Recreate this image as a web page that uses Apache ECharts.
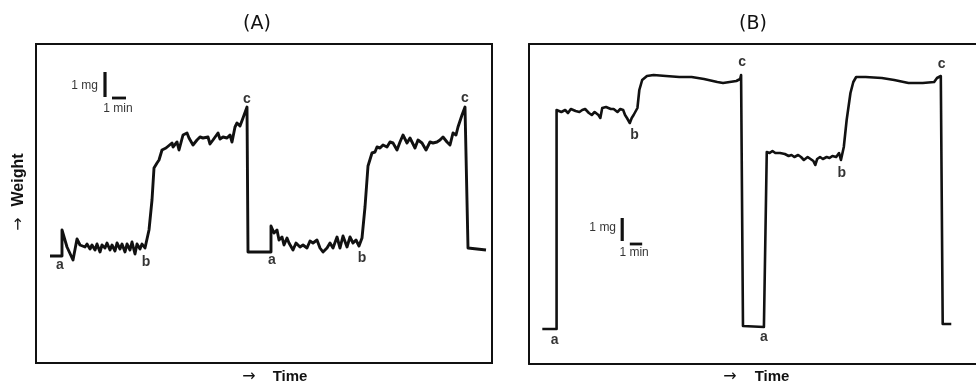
<!DOCTYPE html>
<html><head><meta charset="utf-8">
<script src="https://cdn.jsdelivr.net/npm/echarts@6/dist/echarts.min.js"></script>
<style>html,body{margin:0;padding:0;background:#fff}#c{width:976px;height:383px}</style>
</head><body><div id="c"></div>
<script>
// Panel (A): [time (arb.), weight (arb.)]
const traceA = [
[14,107],[26,107],[26,133],[31,116],[37,103],[41,124],
[44,118],[46,120],[49,116],[51,119],[54,114],[56,118],[59,113],[61,119],[64,111],[66,118],[69,115],[71,120],[74,113],[76,118],[79,112],[81,120],[84,114],[86,119],[89,111],[91,119],[94,113],[96,121],[99,109],[101,119],[104,114],[106,119],[109,115],
[110,116],[113,133],[116,163],[118,195],[121,200],[123,203],[126,213],[130,215],[132,216],[136,220],[137,216],[141,221],[143,213],[147,228],[151,230],[153,225],[157,218],[161,223],[164,226],[167,225],[172,226],[174,219],[177,223],[182,230],[184,224],[187,226],[191,225],[194,228],[196,221],[199,236],[201,240],[204,237],[207,245],[211,256],
[212,111],[235,111],[235,137],
[238,130],[241,133],[243,123],[246,126],[248,118],[251,125],[253,120],[257,113],[260,120],[264,116],[267,118],[271,115],[274,122],[277,120],[281,123],[284,115],[287,111],[291,115],[294,120],[297,115],[301,126],[304,115],[307,127],[311,116],[314,126],[317,120],[320,123],[323,117],
[326,125],[329,156],[332,197],[336,210],[339,211],[341,216],[344,215],[347,218],[351,216],[354,221],[357,220],[361,213],[364,221],[367,228],[371,220],[374,225],[379,215],[382,223],[386,220],[390,213],[394,221],[397,220],[401,221],[404,223],[407,226],[411,221],[414,218],[417,230],[420,228],[422,236],[426,248],[429,256],
[432,115],[450,113]
];
// Panel (B)
const traceB = [
[14,35],[29,35],[29,254],[31,254],[34,252],[38,254],[41,251],[44,255],[49,253],[53,252],[56,254],[59,255],[63,251],[66,249],[69,252],[73,249],[75,246],[77,256],[81,257],[86,255],[89,255],[93,252],[96,255],[99,254],[101,249],[103,246],[106,241],[108,246],[110,249],[114,256],[116,274],[119,284],[124,288],[131,289],[144,288],[158,287],[171,287],[184,285],[198,282],[204,281],[211,282],[218,283],[222,285],[223,289],[225,288],
[225,38],[247,37],[250,212],[253,211],[256,213],[259,211],[264,211],[269,210],[273,208],[276,209],[279,207],[283,209],[286,207],[289,204],[293,207],[296,205],[299,203],[301,199],[303,205],[306,207],[309,205],[313,207],[316,206],[319,208],[323,207],[326,211],[328,204],[331,217],[334,244],[338,271],[341,282],[344,287],[354,287],[371,286],[384,284],[399,281],[414,281],[426,282],[429,286],[433,288],[434,286],
[435,40],[444,40]
];
// point labels [time, weight, text]
const labelsA = [[24,98,'a'],[110,101,'b'],[211,264,'c'],[236,103,'a'],[326,105,'b'],[429,265,'c']];
const labelsB = [[27,24,'a'],[111,229,'b'],[224,302,'c'],[247,27,'a'],[329,191,'b'],[434,300,'c']];
// scale bars: 1 mg (vertical) and 1 min (horizontal)
const mgBarA = [[69,266],[69,291]];
const minBarA = [[76,265],[90,265]];
const mgBarB = [[98,123],[98,146]];
const minBarB = [[106,120],[119,120]];
const scaleTextA = [[48.5,277,'1 mg'],[82,254,'1 min']];
const scaleTextB = [[77.5,136,'1 mg'],[110.5,111,'1 min']];

const ink = '#111';
const chart = echarts.init(document.getElementById('c'));
function lineS(data, idx, w) {
  return {type:'line', data, xAxisIndex:idx, yAxisIndex:idx, symbol:'none', silent:true,
    lineStyle:{color:ink, width:w, join:'round', cap:'butt'}, animation:false, clip:false};
}
function textS(data, idx, font) {
  return {type:'scatter', data, xAxisIndex:idx, yAxisIndex:idx, symbolSize:0, silent:true, animation:false,
    label:{show:true, position:'inside', formatter:p=>p.value[2], color:'#000', fontFamily:'Liberation Sans', fontSize:font.size, fontWeight:font.weight}};
}
const frameLine = {show:true, onZero:false, lineStyle:{color:ink, width:2}};
const hidden = {axisTick:{show:false}, axisLabel:{show:false}, splitLine:{show:false}};
chart.setOption({
  animation:false,
  backgroundColor:'#fff',
  grid:[
    {left:36, top:44, width:456, height:319, show:true, borderColor:ink, borderWidth:2, backgroundColor:'transparent'},
    {left:529, top:44, width:470, height:320, show:false}
  ],
  xAxis:[
    {type:'value', gridIndex:0, min:0, max:456, show:false},
    Object.assign({type:'value', gridIndex:1, min:0, max:470, position:'bottom', axisLine:frameLine}, hidden),
    Object.assign({type:'value', gridIndex:1, min:0, max:470, position:'top', axisLine:frameLine}, hidden)
  ],
  yAxis:[
    {type:'value', gridIndex:0, min:0, max:319, show:false},
    Object.assign({type:'value', gridIndex:1, min:0, max:320, position:'left', axisLine:frameLine}, hidden)
  ],
  series:[
    lineS(traceA,0,2.9), lineS(traceB,1,2.6),
    lineS(mgBarA,0,3.2), lineS(minBarA,0,2.8), lineS(mgBarB,1,3.2), lineS(minBarB,1,2.8),
    textS(labelsA,0,{size:14,weight:'bold'}), textS(labelsB,1,{size:14,weight:'bold'}),
    textS(scaleTextA,0,{size:12,weight:'normal'}), textS(scaleTextB,1,{size:12,weight:'normal'})
  ],
  graphic:[
    {type:'text', x:257, y:24, style:{text:'(A)', font:'19px "DejaVu Sans"', fill:ink, align:'center', verticalAlign:'middle'}},
    {type:'text', x:753, y:24, style:{text:'(B)', font:'19px "DejaVu Sans"', fill:ink, align:'center', verticalAlign:'middle'}},
    {type:'text', x:249, y:377, style:{text:'→', font:'16px "DejaVu Sans"', fill:ink, align:'center', verticalAlign:'middle'}},
    {type:'text', x:290, y:377, style:{text:'Time', font:'bold 15px "Liberation Sans"', fill:ink, align:'center', verticalAlign:'middle'}},
    {type:'text', x:730, y:377, style:{text:'→', font:'16px "DejaVu Sans"', fill:ink, align:'center', verticalAlign:'middle'}},
    {type:'text', x:772, y:377, style:{text:'Time', font:'bold 15px "Liberation Sans"', fill:ink, align:'center', verticalAlign:'middle'}},
    {type:'text', x:19, y:180, rotation:Math.PI/2, style:{text:'Weight', font:'bold 16px "Liberation Sans"', fill:ink, align:'center', verticalAlign:'middle'}},
    {type:'text', x:19, y:224, rotation:Math.PI/2, style:{text:'→', font:'16px "DejaVu Sans"', fill:ink, align:'center', verticalAlign:'middle'}}
  ]
});
</script></body></html>
